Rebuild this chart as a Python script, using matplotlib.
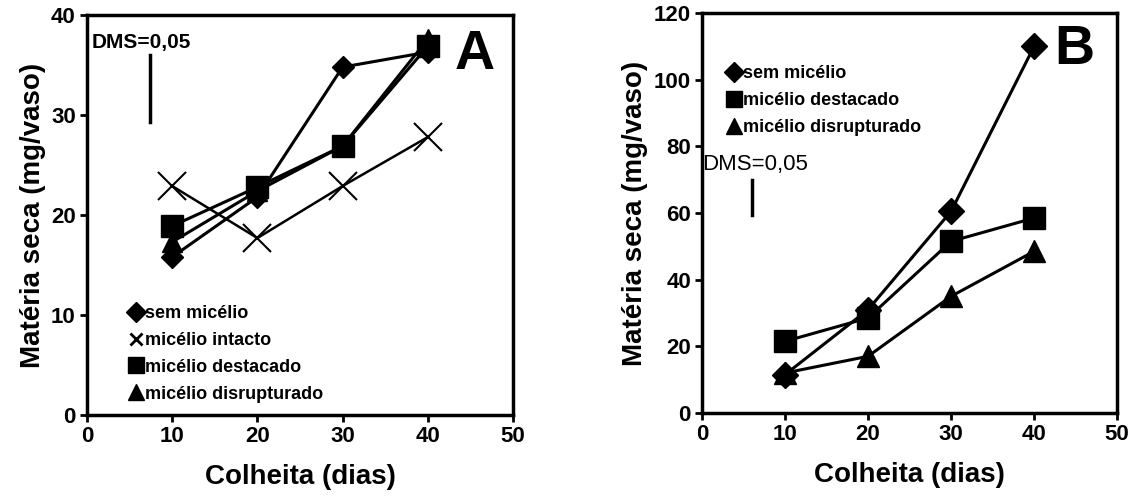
import matplotlib
matplotlib.use('Agg')
import matplotlib.pyplot as plt
from matplotlib.lines import Line2D

plt.rcParams['font.family'] = ['Liberation Sans', 'DejaVu Sans']
plt.rcParams['font.weight'] = 'bold'

dias = [10, 20, 30, 40]

# painel A
a_sem = [15.8, 21.8, 34.8, 36.3]
a_intacto = [22.9, 17.7, 22.9, 27.8]
a_destacado = [18.9, 22.8, 26.9, 36.9]
a_disrupt = [17.3, 22.4, 26.9, 37.6]

# painel B
b_sem = [11.5, 31.0, 60.5, 110.0]
b_destacado = [21.5, 28.5, 51.5, 58.5]
b_disrupt = [12.0, 17.0, 35.0, 48.5]

fig = plt.figure(figsize=(11.31, 5.03), dpi=100)
axA = fig.add_axes([0.0769, 0.175, 0.3767, 0.795])
axB = fig.add_axes([0.6207, 0.179, 0.367, 0.795])


def style(ax, ymax, ystep):
    ax.set_xlim(0, 50)
    ax.set_ylim(0, ymax)
    ax.set_xticks(range(0, 51, 10))
    ax.set_yticks(range(0, ymax + 1, ystep))
    for s in ax.spines.values():
        s.set_linewidth(2.5)
    ax.tick_params(direction='out', width=2, length=5, labelsize=16, pad=3)
    for lab in ax.get_xticklabels() + ax.get_yticklabels():
        lab.set_fontweight('bold')
    ax.set_xlabel('Colheita (dias)', fontsize=20, fontweight='bold', labelpad=12)
    ax.set_ylabel('Matéria seca (mg/vaso)', fontsize=20, fontweight='bold', labelpad=4)


lw = 2.2
axA.plot(dias, a_intacto, color='black', lw=1.8, marker='x', ms=20, mew=1.5)
axA.plot(dias, a_sem, color='black', lw=lw, marker='D', ms=11)
axA.plot(dias, a_disrupt, color='black', lw=lw, marker='^', ms=14)
axA.plot(dias, a_destacado, color='black', lw=lw, marker='s', ms=16)
style(axA, 40, 10)

axA.text(0.6, 37.3, 'DMS=0,05', fontsize=15, fontweight='bold', va='center')
axA.plot([7.4, 7.4], [29.3, 36.0], color='black', lw=2.5)
axA.text(47.8, 36.0, 'A', fontsize=40, fontweight='bold', ha='right', va='center')

hA = [Line2D([], [], ls='none', marker='D', color='black', ms=10),
      Line2D([], [], ls='none', marker='x', color='black', ms=9, mew=2),
      Line2D([], [], ls='none', marker='s', color='black', ms=11),
      Line2D([], [], ls='none', marker='^', color='black', ms=11)]
axA.legend(hA, ['sem micélio', 'micélio intacto', 'micélio destacado', 'micélio disrupturado'],
           loc='lower left', bbox_to_anchor=(0.06, -0.01), frameon=False,
           handlelength=0.8, handletextpad=0.1, labelspacing=0.55,
           prop={'size': 13, 'weight': 'bold'})

axB.plot(dias, b_sem, color='black', lw=lw, marker='D', ms=13)
axB.plot(dias, b_disrupt, color='black', lw=lw, marker='^', ms=16)
axB.plot(dias, b_destacado, color='black', lw=lw, marker='s', ms=16)
style(axB, 120, 20)

axB.text(0.0, 74.5, 'DMS=0,05', fontsize=16, fontweight='normal', va='center')
axB.plot([6.0, 6.0], [59.5, 70.0], color='black', lw=2.5)
axB.text(47.3, 109, 'B', fontsize=40, fontweight='bold', ha='right', va='center')

hB = [Line2D([], [], ls='none', marker='D', color='black', ms=10),
      Line2D([], [], ls='none', marker='s', color='black', ms=12),
      Line2D([], [], ls='none', marker='^', color='black', ms=12)]
axB.legend(hB, ['sem micélio', 'micélio destacado', 'micélio disrupturado'],
           loc='upper left', bbox_to_anchor=(0.02, 0.91), frameon=False,
           handlelength=0.8, handletextpad=0.1, labelspacing=0.55,
           prop={'size': 13, 'weight': 'bold'})

fig.savefig('out.png', dpi=100)
